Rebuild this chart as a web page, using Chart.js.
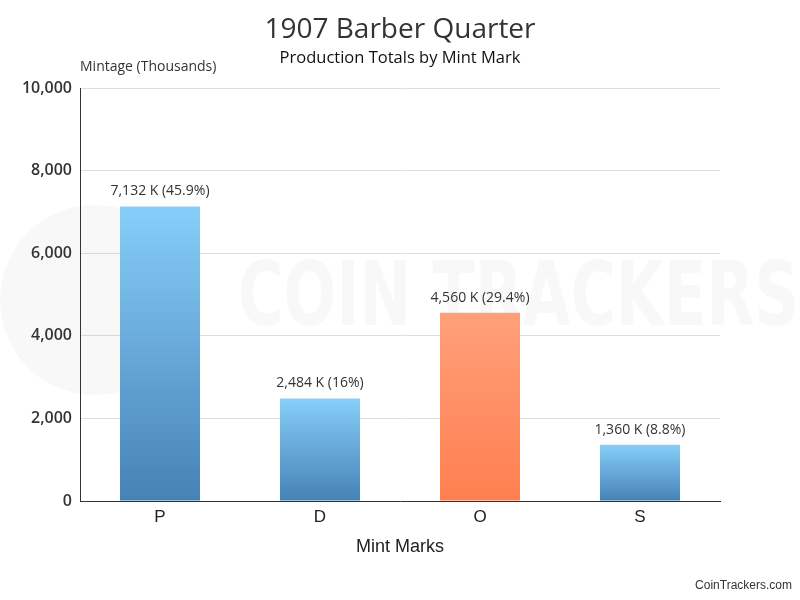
<!DOCTYPE html>
<html>
<head>
<meta charset="utf-8">
<script src="https://cdn.jsdelivr.net/npm/chart.js@4/dist/chart.umd.min.js"></script>
<style>
  html, body { margin: 0; padding: 0; background: #fff; }
  #chart { display: block; }
</style>
</head>
<body>
<canvas id="chart" width="800" height="600"></canvas>
<script>
const mintMarks = ['P', 'D', 'O', 'S'];
const mintage = [7132, 2484, 4560, 1360];
const highlighted = ['O'];
const yTicks = [0, 2000, 4000, 6000, 8000, 10000];

const total = mintage.reduce((acc, v) => acc + v, 0);
const pctLabel = (v) => {
  const pct = (v / total * 100).toFixed(1).replace(/\.0$/, '');
  return v.toLocaleString('en-US') + ' K (' + pct + '%)';
};

const barFill = (ctx) => {
  const chart = ctx.chart;
  const y = chart.scales && chart.scales.y;
  if (!chart.chartArea || !y || ctx.parsed === undefined) {
    return '#6aa8dc';
  }
  const top = y.getPixelForValue(ctx.parsed.y);
  const bottom = y.getPixelForValue(0);
  const grad = chart.ctx.createLinearGradient(0, top, 0, bottom);
  if (highlighted.includes(mintMarks[ctx.dataIndex])) {
    grad.addColorStop(0, '#ffa07a');
    grad.addColorStop(1, '#ff7f50');
  } else {
    grad.addColorStop(0, '#87cefa');
    grad.addColorStop(1, '#4682b4');
  }
  return grad;
};

const extras = {
  id: 'extras',
  beforeDatasetsDraw(chart) {
    const { ctx } = chart;
    ctx.save();
    // faint watermark
    ctx.fillStyle = 'rgba(70, 85, 100, 0.04)';
    ctx.font = 'bold 84px "DejaVu Sans Condensed", sans-serif';
    ctx.textAlign = 'left';
    ctx.textBaseline = 'middle';
    ctx.save();
    ctx.translate(238, 302);
    ctx.scale(0.82, 1.05);
    ctx.fillText('COIN TRACKERS', 0, 0);
    ctx.restore();
    ctx.beginPath();
    ctx.arc(95, 300, 95, 0, Math.PI * 2);
    ctx.fill();
    ctx.restore();
  },
  afterDraw(chart) {
    const { ctx, chartArea } = chart;
    const meta = chart.getDatasetMeta(0);
    ctx.save();
    ctx.textAlign = 'center';
    ctx.textBaseline = 'middle';
    ctx.fillStyle = '#333';
    ctx.font = '28px "Open Sans", sans-serif';
    ctx.fillText('1907 Barber Quarter', 400, 30);
    ctx.fillStyle = '#111';
    ctx.font = '16.5px "Open Sans", sans-serif';
    ctx.fillText('Production Totals by Mint Mark', 400, 58);

    ctx.fillStyle = '#333';
    ctx.font = '14px "Open Sans", sans-serif';
    ctx.textBaseline = 'bottom';
    meta.data.forEach((bar, i) => {
      ctx.fillText(pctLabel(mintage[i]), bar.x, bar.y - 8);
    });
    ctx.textAlign = 'left';
    ctx.textBaseline = 'middle';
    ctx.font = '14px "Open Sans", sans-serif';
    ctx.fillText('Mintage (Thousands)', chartArea.left, 67);
    ctx.textAlign = 'right';
    ctx.font = '12px "Liberation Sans Narrow", sans-serif';
    ctx.fillText('CoinTrackers.com', 792, 586);
    ctx.restore();
  }
};

new Chart(document.getElementById('chart'), {
  type: 'bar',
  data: {
    labels: mintMarks,
    datasets: [{
      data: mintage,
      backgroundColor: barFill,
      barPercentage: 0.5,
      categoryPercentage: 1,
    }],
  },
  options: {
    responsive: false,
    animation: false,
    layout: { padding: { top: 88, left: 0, right: 80, bottom: 42 } },
    plugins: {
      legend: { display: false },
      tooltip: { enabled: false },
    },
    scales: {
      x: {
        grid: { display: false, drawTicks: false },
        border: { color: '#333', width: 1 },
        ticks: {
          color: '#222',
          font: { family: '"Liberation Sans Narrow", sans-serif', size: 17 },
          padding: 6,
        },
        title: {
          display: true,
          text: 'Mint Marks',
          color: '#222',
          font: { family: '"Liberation Sans Narrow", sans-serif', size: 18 },
          padding: { top: 3, bottom: 0 },
        },
      },
      y: {
        min: 0,
        max: 10000,
        afterBuildTicks(axis) {
          axis.ticks = yTicks.map(value => ({ value }));
        },
        afterFit(axis) {
          axis.width = 80;
        },
        grid: { color: '#dedede', drawTicks: false },
        border: { color: '#333', width: 1 },
        ticks: {
          color: '#333',
          padding: 8,
          font: { family: '"Open Sans", sans-serif', size: 16, weight: 600 },
          callback: (v) => v.toLocaleString('en-US'),
        },
      },
    },
  },
  plugins: [extras],
});
</script>
</body>
</html>
